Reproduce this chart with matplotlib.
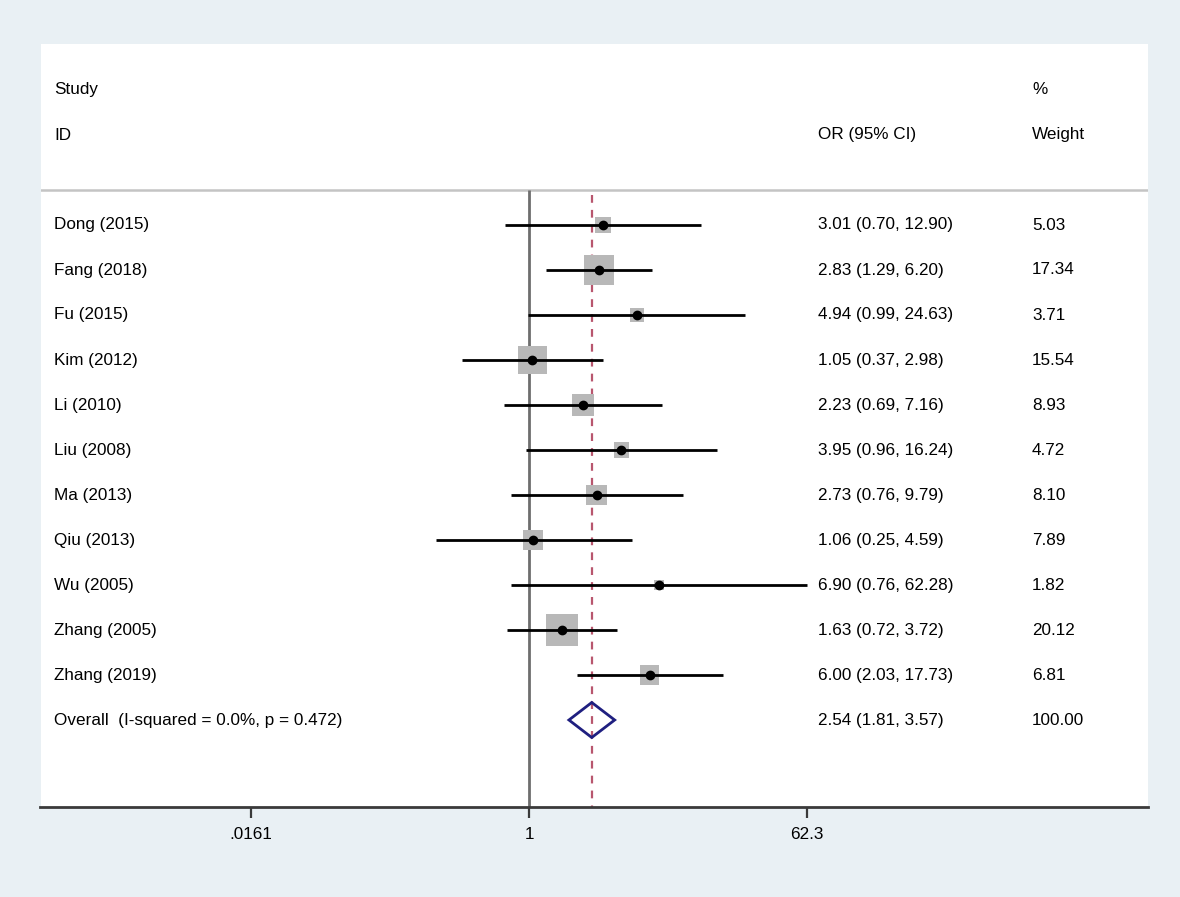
import numpy as np
import matplotlib
matplotlib.use("Agg")
import matplotlib.pyplot as plt
from matplotlib.transforms import blended_transform_factory

# ---- data ----
studies = ["Dong (2015)", "Fang (2018)", "Fu (2015)", "Kim (2012)", "Li (2010)",
           "Liu (2008)", "Ma (2013)", "Qiu (2013)", "Wu (2005)", "Zhang (2005)",
           "Zhang (2019)"]
or_vals = [3.01, 2.83, 4.94, 1.05, 2.23, 3.95, 2.73, 1.06, 6.90, 1.63, 6.00]
ci_low = [0.70, 1.29, 0.99, 0.37, 0.69, 0.96, 0.76, 0.25, 0.76, 0.72, 2.03]
ci_high = [12.90, 6.20, 24.63, 2.98, 7.16, 16.24, 9.79, 4.59, 62.28, 3.72, 17.73]
weights = [5.03, 17.34, 3.71, 15.54, 8.93, 4.72, 8.10, 7.89, 1.82, 20.12, 6.81]

overall_label = "Overall  (I-squared = 0.0%, p = 0.472)"
overall_or = 2.54
overall_low = 1.81
overall_high = 3.57
overall_weight = "100.00"

tick_vals = [0.0161, 1, 62.3]
tick_labels = [".0161", "1", "62.3"]

# ---- figure ----
W, H = 1180, 897
DPI = 100
plt.rcParams['font.family'] = ['Liberation Sans', 'DejaVu Sans']
fig = plt.figure(figsize=(W / DPI, H / DPI), dpi=DPI, facecolor='#e9f0f4')

left_px, right_px, top_px, bot_px = 40.5, 1148, 44, 806.5
ax = fig.add_axes([left_px / W, 1 - bot_px / H, (right_px - left_px) / W, (bot_px - top_px) / H])
ax.set_facecolor('white')

# x mapping: 1 at px 529, 155 px per decade
x0_px, ppd = 529, 155.0
ax.set_xscale('log')
ax.set_xlim(10 ** ((left_px - x0_px) / ppd), 10 ** ((right_px - x0_px) / ppd))

# y mapping: row i centre at px 225 + 45 i
row0_px, row_h = 225, 45.0
def ypx(p):
    return (p - row0_px) / row_h
ax.set_ylim(ypx(bot_px), ypx(top_px))

n = len(studies)
rows = np.arange(n)
ov_row = n

sep_y = ypx(190)
bottom_y = ypx(bot_px)

# header separator
ax.axhline(sep_y, color='#c4c4c4', lw=1.8, zorder=1)

# null line and overall dashed line
ax.plot([1, 1], [sep_y, bottom_y], color='#6e6e6e', lw=2.0, zorder=2, solid_capstyle='butt')
ax.plot([overall_or, overall_or], [sep_y + 0.12, bottom_y], color='#b8566e', lw=1.6,
        ls=(0, (3.5, 3.2)), zorder=2)

# boxes
side_pt = 7.29 * np.sqrt(np.array(weights)) * 0.72
ax.scatter(or_vals, rows, s=side_pt ** 2, marker='s', color='#b8b8b8', linewidths=0, zorder=3)

# CI lines
for i in range(n):
    ax.plot([ci_low[i], ci_high[i]], [rows[i], rows[i]], color='black', lw=2.0, zorder=4,
            solid_capstyle='butt')
ax.plot(or_vals, rows, 'o', color='black', ms=6.0, zorder=5)

# overall diamond
dh = 17.5 / row_h
ax.fill([overall_low, overall_or, overall_high, overall_or, overall_low],
        [ov_row, ov_row - dh, ov_row, ov_row + dh, ov_row],
        facecolor='none', edgecolor='#1f1f80', lw=2.0, zorder=5)

# text columns
fs = 12.3
tr = blended_transform_factory(ax.transAxes, ax.transData)
def xa(px):
    return (px - left_px) / (right_px - left_px)

ax.text(xa(54), ypx(90), "Study", transform=tr, fontsize=fs, va='center', ha='left')
ax.text(xa(54), ypx(135), "ID", transform=tr, fontsize=fs, va='center', ha='left')
ax.text(xa(818), ypx(135), "OR (95% CI)", transform=tr, fontsize=fs, va='center', ha='left')
ax.text(xa(1032), ypx(90), "%", transform=tr, fontsize=fs, va='center', ha='left')
ax.text(xa(1032), ypx(135), "Weight", transform=tr, fontsize=fs, va='center', ha='left')

for i in range(n):
    ax.text(xa(54), rows[i], studies[i], transform=tr, fontsize=fs, va='center', ha='left')
    ax.text(xa(818), rows[i], f"{or_vals[i]:.2f} ({ci_low[i]:.2f}, {ci_high[i]:.2f})",
            transform=tr, fontsize=fs, va='center', ha='left')
    ax.text(xa(1032), rows[i], f"{weights[i]:.2f}", transform=tr, fontsize=fs, va='center', ha='left')

ax.text(xa(54), ov_row, overall_label, transform=tr, fontsize=fs, va='center', ha='left')
ax.text(xa(818), ov_row, f"{overall_or:.2f} ({overall_low:.2f}, {overall_high:.2f})",
        transform=tr, fontsize=fs, va='center', ha='left')
ax.text(xa(1032), ov_row, overall_weight, transform=tr, fontsize=fs, va='center', ha='left')

# axes styling
for s in ['top', 'left', 'right']:
    ax.spines[s].set_visible(False)
ax.spines['bottom'].set_color('#3a3a3a')
ax.spines['bottom'].set_linewidth(2.0)
ax.set_xticks(tick_vals)
ax.set_xticklabels(tick_labels, fontsize=fs)
ax.xaxis.set_minor_locator(matplotlib.ticker.NullLocator())
ax.tick_params(axis='x', direction='out', length=8, width=1.6, color='#3a3a3a', pad=7)
ax.set_yticks([])

fig.savefig("out.png", dpi=DPI, facecolor=fig.get_facecolor())
